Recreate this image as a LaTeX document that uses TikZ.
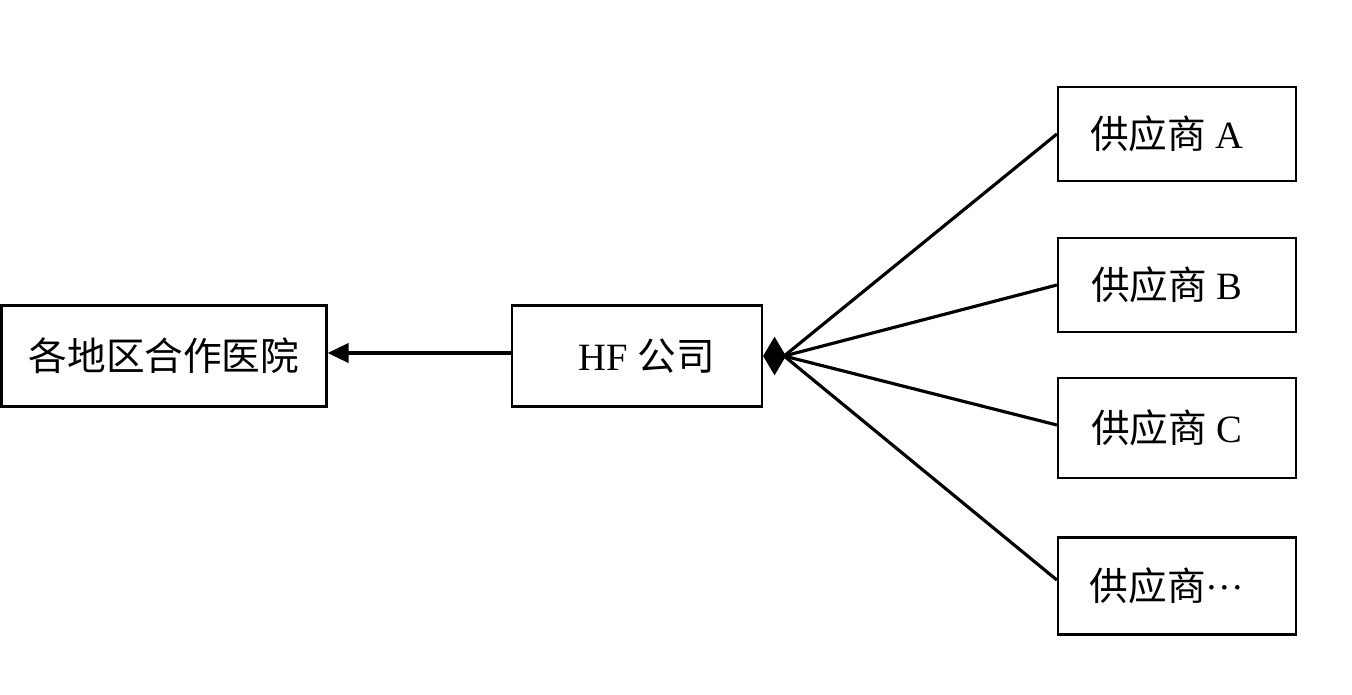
\documentclass[tikz,border=0pt]{standalone}
\usepackage{fontspec}
\setmainfont{Liberation Serif}
\newfontfamily\cjk{Noto Sans CJK SC}
\usepackage{tikz}
\usetikzlibrary{positioning,arrows.meta}

\begin{document}
\begin{tikzpicture}[
x=0.02cm, y=-0.02cm,
every node/.style={font=\fontsize{22}{26}\selectfont},
boxnode/.style={rectangle, draw=black, line width=1.3pt, minimum height=2.02cm, inner sep=0pt},
suppnode/.style={rectangle, draw=black, line width=1.3pt, minimum width=4.76cm, minimum height=1.88cm, inner sep=0pt},
link/.style={line width=1.8pt},
]
\useasboundingbox (0,0) rectangle (1352,694);
%Nodes
\node[boxnode, minimum width=6.5cm] (hosp) at (164,356) {\cjk 各地区合作医院};
\node[boxnode, minimum width=5cm]   (hf)   at (637,356) {\hspace{0.4cm}HF {\cjk 公司}};
\coordinate[right=0.42cm of hf.east] (hub);

\node[suppnode] (supA) at (1177,134) {\hspace{-0.4cm}{\cjk 供应商} A};
\node[suppnode] (supB) at (1177,285) {\hspace{-0.4cm}{\cjk 供应商} B};
\node[suppnode, minimum height=2cm] (supC) at (1177,428) {\hspace{-0.4cm}{\cjk 供应商} C};
\node[suppnode, minimum height=1.94cm] (supD) at (1177,586) {\hspace{-0.4cm}{\cjk 供应商}\raisebox{0.3em}{…}};

%Lines
\draw[link,-{Triangle[length=12pt,width=11pt]}] ([yshift=0.06cm]hf.west) -- ([yshift=0.06cm]hosp.east);

\draw[link,{Diamond[length=13pt,width=22pt]}-] (hf.east) -- (hub);
\draw[link] (hub) -- (supA.west);
\draw[link] (hub) -- (supB.west);
\draw[link] (hub) -- ([yshift=0.06cm]supC.west);
\draw[link] (hub) -- ([yshift=0.12cm]supD.west);

\end{tikzpicture}
\end{document}
